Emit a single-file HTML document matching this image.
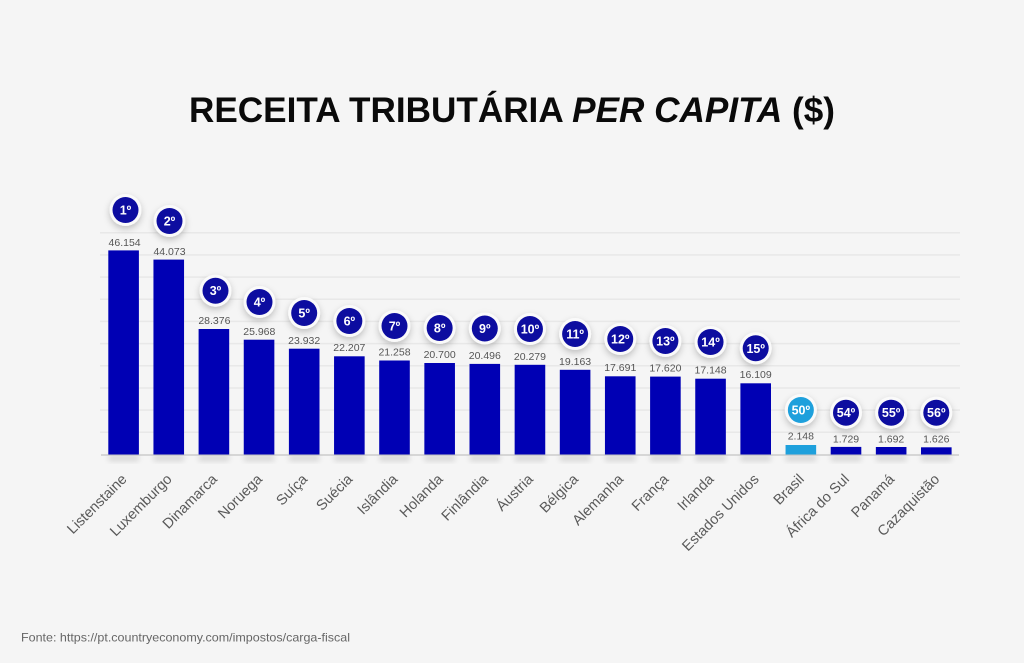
<!DOCTYPE html>
<html><head><meta charset="utf-8"><style>
html,body{margin:0;padding:0;background:#f5f5f5;}
svg{display:block;}
</style></head><body>
<svg width="1024" height="663" viewBox="0 0 1024 663" xmlns="http://www.w3.org/2000/svg">
<defs>
<filter id="bsh" x="-50%" y="-50%" width="200%" height="200%">
<feGaussianBlur stdDeviation="3"/>
</filter>
<filter id="csh" x="-60%" y="-60%" width="220%" height="220%">
<feDropShadow dx="0" dy="3" stdDeviation="3.5" flood-color="#000" flood-opacity="0.22"/>
</filter>
</defs>
<rect width="1024" height="663" fill="#f5f5f5"/>
<text x="512" y="122" text-anchor="middle" textLength="646" lengthAdjust="spacingAndGlyphs" font-family="Liberation Sans, Arial, sans-serif" font-weight="bold" font-size="35" fill="#0a0a0a">RECEITA TRIBUTÁRIA <tspan font-style="italic">PER CAPITA</tspan> ($)</text>
<g stroke="#e8e8e8" stroke-width="1.5">
<line x1="100" x2="960" y1="432.3" y2="432.3"/>
<line x1="100" x2="960" y1="410.1" y2="410.1"/>
<line x1="100" x2="960" y1="388.0" y2="388.0"/>
<line x1="100" x2="960" y1="365.8" y2="365.8"/>
<line x1="100" x2="960" y1="343.6" y2="343.6"/>
<line x1="100" x2="960" y1="321.4" y2="321.4"/>
<line x1="100" x2="960" y1="299.2" y2="299.2"/>
<line x1="100" x2="960" y1="277.1" y2="277.1"/>
<line x1="100" x2="960" y1="254.9" y2="254.9"/>
<line x1="100" x2="960" y1="232.7" y2="232.7"/>
</g>
<g fill="#000" opacity="0.13" filter="url(#bsh)">
<rect x="108.3" y="455" width="30.6" height="6"/><rect x="153.45" y="455" width="30.6" height="6"/><rect x="198.6" y="455" width="30.6" height="6"/><rect x="243.75" y="455" width="30.6" height="6"/><rect x="288.9" y="455" width="30.6" height="6"/><rect x="334.05" y="455" width="30.6" height="6"/><rect x="379.2" y="455" width="30.6" height="6"/><rect x="424.35" y="455" width="30.6" height="6"/><rect x="469.5" y="455" width="30.6" height="6"/><rect x="514.65" y="455" width="30.6" height="6"/><rect x="559.8" y="455" width="30.6" height="6"/><rect x="604.95" y="455" width="30.6" height="6"/><rect x="650.1" y="455" width="30.6" height="6"/><rect x="695.25" y="455" width="30.6" height="6"/><rect x="740.4" y="455" width="30.6" height="6"/><rect x="785.55" y="455" width="30.6" height="6"/><rect x="830.7" y="455" width="30.6" height="6"/><rect x="875.85" y="455" width="30.6" height="6"/><rect x="921" y="455" width="30.6" height="6"/>
</g>
<line x1="101" x2="959" y1="455" y2="455" stroke="#c4c4c4" stroke-width="1.2"/>
<g fill="#0000b4">
<rect x="108.3" y="250.4" width="30.6" height="204.1"/>
<rect x="153.45" y="259.6" width="30.6" height="194.9"/>
<rect x="198.6" y="329.0" width="30.6" height="125.5"/>
<rect x="243.75" y="339.7" width="30.6" height="114.8"/>
<rect x="288.9" y="348.7" width="30.6" height="105.8"/>
<rect x="334.05" y="356.3" width="30.6" height="98.2"/>
<rect x="379.2" y="360.5" width="30.6" height="94.0"/>
<rect x="424.35" y="363.0" width="30.6" height="91.5"/>
<rect x="469.5" y="363.9" width="30.6" height="90.6"/>
<rect x="514.65" y="364.8" width="30.6" height="89.7"/>
<rect x="559.8" y="369.8" width="30.6" height="84.7"/>
<rect x="604.95" y="376.3" width="30.6" height="78.2"/>
<rect x="650.1" y="376.6" width="30.6" height="77.9"/>
<rect x="695.25" y="378.7" width="30.6" height="75.8"/>
<rect x="740.4" y="383.3" width="30.6" height="71.2"/>
<rect x="785.55" y="445.0" width="30.6" height="9.5" fill="#1ea0dc"/>
<rect x="830.7" y="446.9" width="30.6" height="7.6"/>
<rect x="875.85" y="447.0" width="30.6" height="7.5"/>
<rect x="921" y="447.3" width="30.6" height="7.2"/>
</g>
<g font-family="Liberation Sans, Arial, sans-serif" font-size="10.5" fill="#555" text-anchor="middle">
<text x="124.6" y="246">46.154</text>
<text x="169.5" y="255">44.073</text>
<text x="214.4" y="324">28.376</text>
<text x="259.3" y="335">25.968</text>
<text x="304.2" y="344">23.932</text>
<text x="349.35" y="351">22.207</text>
<text x="394.5" y="355.5">21.258</text>
<text x="439.65" y="358">20.700</text>
<text x="484.8" y="359">20.496</text>
<text x="529.95" y="360">20.279</text>
<text x="575.1" y="365">19.163</text>
<text x="620.25" y="371">17.691</text>
<text x="665.4" y="371.5">17.620</text>
<text x="710.55" y="373.5">17.148</text>
<text x="755.7" y="378">16.109</text>
<text x="800.85" y="439.5">2.148</text>
<text x="846" y="442.5">1.729</text>
<text x="891.15" y="442.5">1.692</text>
<text x="936.3" y="442.5">1.626</text>
</g>
<g filter="url(#csh)" fill="#fafafa">
<circle cx="125.5" cy="210" r="16"/>
<circle cx="169.5" cy="221" r="16"/>
<circle cx="215.5" cy="290.7" r="16"/>
<circle cx="259.5" cy="302" r="16"/>
<circle cx="304.2" cy="313" r="16"/>
<circle cx="349.35" cy="321" r="16"/>
<circle cx="394.5" cy="326" r="16"/>
<circle cx="439.65" cy="328" r="16"/>
<circle cx="484.8" cy="328.5" r="16"/>
<circle cx="529.95" cy="329" r="16"/>
<circle cx="575.1" cy="334" r="16"/>
<circle cx="620.25" cy="339" r="16"/>
<circle cx="665.4" cy="341" r="16"/>
<circle cx="710.55" cy="342" r="16"/>
<circle cx="755.7" cy="348.3" r="16"/>
<circle cx="800.85" cy="410" r="16"/>
<circle cx="846" cy="412.7" r="16"/>
<circle cx="891.15" cy="412.7" r="16"/>
<circle cx="936.3" cy="412.7" r="16"/>
</g>
<g fill="#0d0da0">
<circle cx="125.5" cy="210" r="13"/>
<circle cx="169.5" cy="221" r="13"/>
<circle cx="215.5" cy="290.7" r="13"/>
<circle cx="259.5" cy="302" r="13"/>
<circle cx="304.2" cy="313" r="13"/>
<circle cx="349.35" cy="321" r="13"/>
<circle cx="394.5" cy="326" r="13"/>
<circle cx="439.65" cy="328" r="13"/>
<circle cx="484.8" cy="328.5" r="13"/>
<circle cx="529.95" cy="329" r="13"/>
<circle cx="575.1" cy="334" r="13"/>
<circle cx="620.25" cy="339" r="13"/>
<circle cx="665.4" cy="341" r="13"/>
<circle cx="710.55" cy="342" r="13"/>
<circle cx="755.7" cy="348.3" r="13"/>
<circle cx="800.85" cy="410" r="13" fill="#1ea0dc"/>
<circle cx="846" cy="412.7" r="13"/>
<circle cx="891.15" cy="412.7" r="13"/>
<circle cx="936.3" cy="412.7" r="13"/>
</g>
<g font-family="Liberation Sans, Arial, sans-serif" font-weight="bold" font-size="12.5" fill="#fff" text-anchor="middle">
<text x="125.5" y="214.5">1º</text>
<text x="169.5" y="225.5">2º</text>
<text x="215.5" y="295.2">3º</text>
<text x="259.5" y="306.5">4º</text>
<text x="304.2" y="317.5">5º</text>
<text x="349.35" y="325.5">6º</text>
<text x="394.5" y="330.5">7º</text>
<text x="439.65" y="332.5">8º</text>
<text x="484.8" y="333">9º</text>
<text x="529.95" y="333.5">10º</text>
<text x="575.1" y="338.5">11º</text>
<text x="620.25" y="343.5">12º</text>
<text x="665.4" y="345.5">13º</text>
<text x="710.55" y="346.5">14º</text>
<text x="755.7" y="352.8">15º</text>
<text x="800.85" y="414.5">50º</text>
<text x="846" y="417.2">54º</text>
<text x="891.15" y="417.2">55º</text>
<text x="936.3" y="417.2">56º</text>
</g>
<g font-family="Liberation Sans, Arial, sans-serif" font-size="14.5" fill="#5a5a5a" text-anchor="end">
<text transform="translate(127.6,480) rotate(-45)">Listenstaine</text>
<text transform="translate(172.75,480) rotate(-45)">Luxemburgo</text>
<text transform="translate(217.9,480) rotate(-45)">Dinamarca</text>
<text transform="translate(263.05,480) rotate(-45)">Noruega</text>
<text transform="translate(308.2,480) rotate(-45)">Suíça</text>
<text transform="translate(353.35,480) rotate(-45)">Suécia</text>
<text transform="translate(398.5,480) rotate(-45)">Islândia</text>
<text transform="translate(443.65,480) rotate(-45)">Holanda</text>
<text transform="translate(488.8,480) rotate(-45)">Finlândia</text>
<text transform="translate(533.95,480) rotate(-45)">Áustria</text>
<text transform="translate(579.1,480) rotate(-45)">Bélgica</text>
<text transform="translate(624.25,480) rotate(-45)">Alemanha</text>
<text transform="translate(669.4,480) rotate(-45)">França</text>
<text transform="translate(714.55,480) rotate(-45)">Irlanda</text>
<text transform="translate(759.7,480) rotate(-45)">Estados Unidos</text>
<text transform="translate(804.85,480) rotate(-45)">Brasil</text>
<text transform="translate(850,480) rotate(-45)">África do Sul</text>
<text transform="translate(895.15,480) rotate(-45)">Panamá</text>
<text transform="translate(940.3,480) rotate(-45)">Cazaquistão</text>
</g>
<text x="21" y="641.5" textLength="329" lengthAdjust="spacingAndGlyphs" font-family="Liberation Sans, Arial, sans-serif" font-size="12" fill="#666">Fonte: https://pt.countryeconomy.com/impostos/carga-fiscal</text>
</svg>
</body></html>
